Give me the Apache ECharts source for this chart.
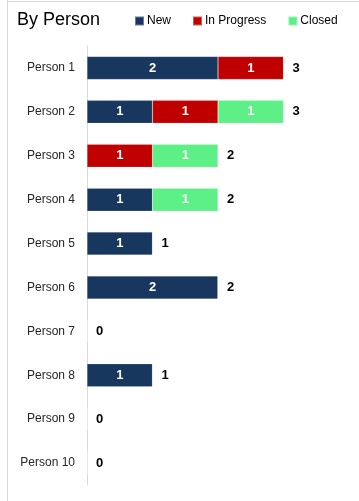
<!DOCTYPE html>
<html>
<head>
<meta charset="utf-8">
<style>
  html, body { margin: 0; padding: 0; background: #fff; }
  #chart { width: 359px; height: 501px; }
</style>
<script src="https://cdn.jsdelivr.net/npm/echarts@6/dist/echarts.min.js"></script>
</head>
<body>
<div id="chart"></div>
<script>
const people = ['Person 1', 'Person 2', 'Person 3', 'Person 4', 'Person 5',
                'Person 6', 'Person 7', 'Person 8', 'Person 9', 'Person 10'];
const newCounts = [2, 1, 0, 1, 1, 2, 0, 1, 0, 0];
const inProgressCounts = [1, 1, 1, 0, 0, 0, 0, 0, 0, 0];
const closedCounts = [0, 1, 1, 1, 0, 0, 0, 0, 0, 0];

// Row totals shown at the end of each stacked bar
const totals = people.map((_, i) => newCounts[i] + inProgressCounts[i] + closedCounts[i]);

const FONT = 'Liberation Sans, Arial, sans-serif';

const segmentLabel = {
  show: true,
  position: 'inside',
  color: '#fff',
  fontWeight: 'bold',
  fontSize: 13,
  fontFamily: FONT,
  formatter: p => (p.value ? String(p.value) : '')
};

function stackSeries(name, data, color) {
  return {
    name: name,
    type: 'bar',
    stack: 'status',
    data: data,
    barWidth: 23,
    itemStyle: { color: color, borderColor: 'rgba(255,255,255,0.35)', borderWidth: 0.5 },
    label: segmentLabel,
    emphasis: { disabled: true }
  };
}

const chart = echarts.init(document.getElementById('chart'), null, { renderer: 'canvas' });
chart.setOption({
  animation: false,
  title: {
    text: 'By Person',
    left: 17,
    top: 11,
    padding: 0,
    textStyle: { fontFamily: FONT, fontSize: 18, fontWeight: 'normal', color: '#000' }
  },
  legend: {
    left: 134,
    top: 15,
    padding: 0,
    itemWidth: 9,
    itemHeight: 9,
    itemGap: 21,
    icon: 'rect',
    textStyle: { fontFamily: FONT, fontSize: 12, color: '#000', padding: [0, 0, 0, -2] },
    data: ['New', 'In Progress', 'Closed']
  },
  grid: { left: 87, top: 46, width: 262, height: 439, containLabel: false },
  xAxis: {
    type: 'value',
    min: 0,
    max: 4,
    show: false
  },
  yAxis: {
    type: 'category',
    data: people,
    inverse: true,
    axisLine: { show: true, lineStyle: { color: '#d9d9d9', width: 1 } },
    axisTick: { show: false },
    axisLabel: { fontFamily: FONT, fontSize: 12, color: '#262626', margin: 12 }
  },
  series: [
    stackSeries('New', newCounts, '#17375e'),
    stackSeries('In Progress', inProgressCounts, '#c00000'),
    stackSeries('Closed', closedCounts, '#5cf086'),
    {
      name: 'Total',
      type: 'bar',
      stack: 'status',
      data: people.map(() => 0),
      barWidth: 23,
      itemStyle: { color: 'transparent' },
      label: {
        show: true,
        position: 'right',
        distance: 9,
        color: '#000',
        fontWeight: 'bold',
        fontSize: 13,
        fontFamily: FONT,
        formatter: p => String(totals[p.dataIndex])
      },
      emphasis: { disabled: true }
    }
  ],
  graphic: [
    { type: 'line', shape: { x1: 7.5, y1: 0, x2: 7.5, y2: 501 }, style: { stroke: '#d9d9d9', lineWidth: 1 } },
    { type: 'line', shape: { x1: 7, y1: 1.5, x2: 359, y2: 1.5 }, style: { stroke: '#d9d9d9', lineWidth: 1 } }
  ]
});
</script>
</body>
</html>
